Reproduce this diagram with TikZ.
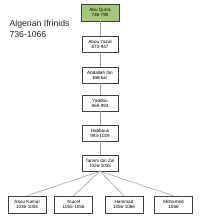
\documentclass[tikz,border=0pt]{standalone}
\usepackage{fontspec}
\setmainfont{Liberation Sans}
\usepackage{xcolor}
\usetikzlibrary{positioning}

\definecolor{rootgreen}{HTML}{A6C878}
\definecolor{linegray}{HTML}{A0A0A0}

\begin{document}
\begin{tikzpicture}[
  x=1pt, y=1pt,
  node distance=14pt,
  ruler/.style={draw=black!75,fill=white,line width=0.5pt,minimum width=36pt,minimum height=15.5pt,
                inner sep=0.5pt,align=center,font=\fontsize{4.6}{5}\selectfont},
  root/.style={ruler,fill=rootgreen,minimum width=38pt,minimum height=17pt},
  son/.style={ruler,minimum width=38pt,minimum height=17pt},
  title/.style={font=\fontsize{8.7}{10.5}\selectfont,align=left,text=black!85},
  link/.style={draw=linegray, line width=0.6pt},
]
\useasboundingbox (0,0) rectangle (200,-221);

% title
\node[title, anchor=west] (ttl) at (6,-29) {Algerian Ifrinids\\736-1066};

% main line
\node[root] (qurra) at (100,-12.5) {Abu Qurra\\736-790};
\node[ruler, below=15pt of qurra] (yazid)   {Abou Yazid\\873-947};
\node[ruler, below=15pt of yazid] (bekkar)  {Abdallah Ibn\\Bekkar};
\node[ruler, below=12pt of bekkar] (yaddou) {Yaddou\\958-993};
\node[ruler, below=of yaddou]      (habbous){Habbous\\993-1029};
\node[ruler, below=of habbous]     (tamim)  {Tamim Ibn Ziri\\1026-1035};

% sons
\node[son] (kamal)   at (27,-204.5)   {Abou Kamal\\1036-1054};
\node[son] (youcef)  at (73.5,-204.5) {Youcef\\1055-1056};
\node[son] (hammad)  at (124,-204.5)  {Hammad\\1056-1066};
\node[son] (mohamed) at (173.5,-204.5){Mohamed\\1066};

% edges
\draw[link] (qurra) -- (yazid);
\draw[link] (yazid) -- (bekkar);
\draw[link] (bekkar) -- (yaddou);
\draw[link] (yaddou) -- (habbous);
\draw[link] (habbous) -- (tamim);
\foreach \s in {kamal,youcef,hammad,mohamed}
  \draw[link] (tamim.south) -- (\s.north);

\end{tikzpicture}
\end{document}
